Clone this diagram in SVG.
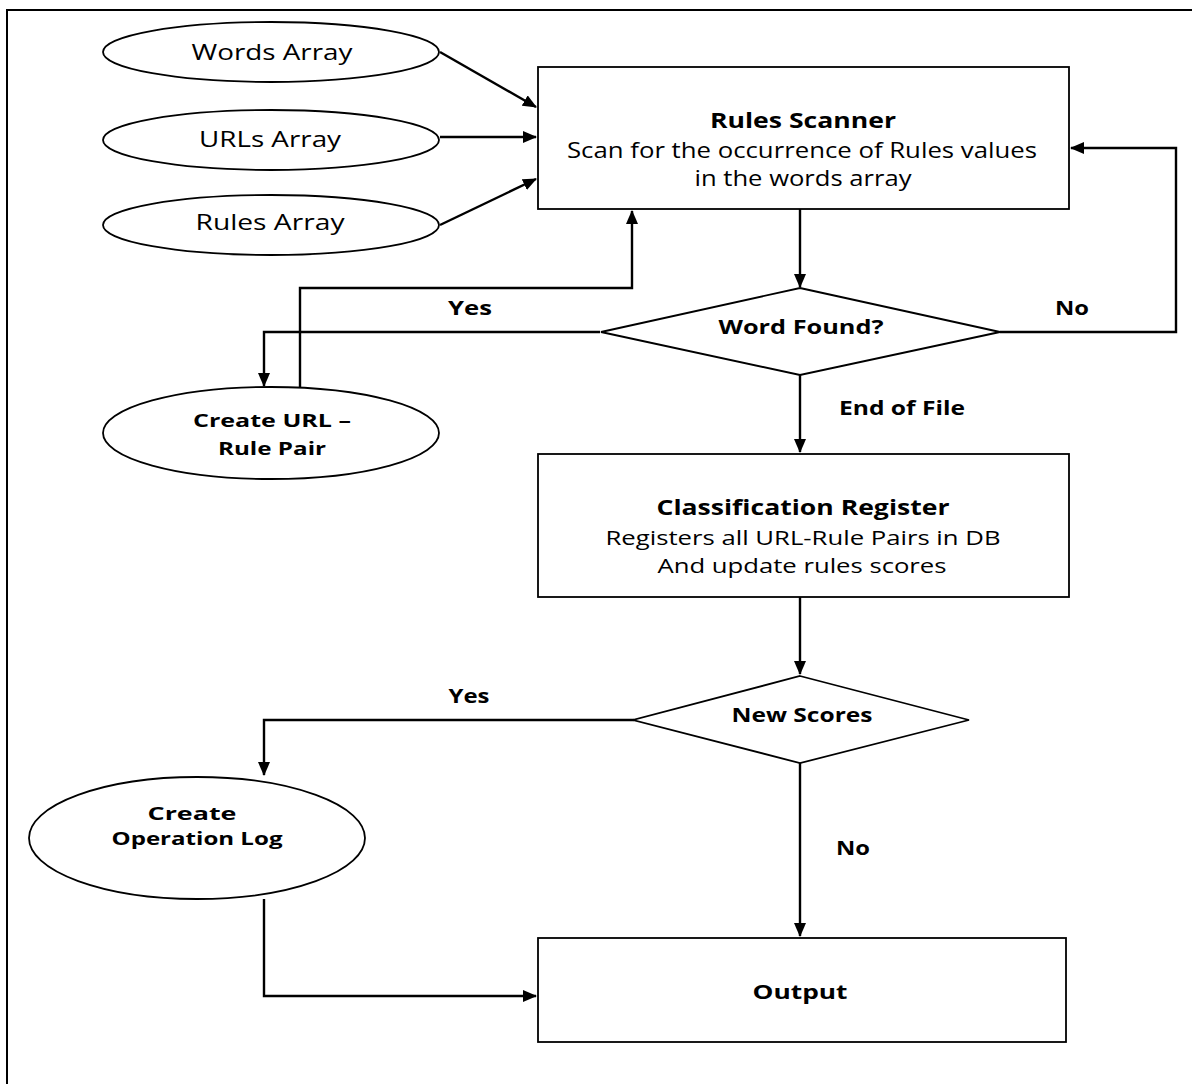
<svg xmlns="http://www.w3.org/2000/svg" width="1192" height="1084" viewBox="0 0 1192 1084">
<defs>
<marker id="arr" markerWidth="14" markerHeight="12" refX="13" refY="6" orient="auto" markerUnits="userSpaceOnUse" viewBox="0 0 14 12">
<path d="M0,0 L14,6 L0,12 Z" fill="#000"/>
</marker>
<style>
.shape{fill:#fff;stroke:#000;stroke-width:1.8}
.conn{fill:none;stroke:#000;stroke-width:2.4}
.t{font-family:"Open Sans","Liberation Sans",sans-serif;font-size:21px;fill:#000;text-anchor:middle}
.b{font-weight:bold}
.c{font-family:"Open Sans","Liberation Sans",sans-serif;font-weight:bold;font-size:19px;fill:#000;text-anchor:middle}
</style>
</defs>
<rect width="1192" height="1084" fill="#fff"/>
<path d="M7,1084 V10 H1192" fill="none" stroke="#000" stroke-width="2"/>

<g id="connectors">
<path class="conn" d="M440,52 L536,107" marker-end="url(#arr)"/>
<path class="conn" d="M440,137 L536,137" marker-end="url(#arr)"/>
<path class="conn" d="M440,225 L536,179" marker-end="url(#arr)"/>
<path class="conn" d="M800,209 L800,287" marker-end="url(#arr)"/>
<path class="conn" d="M1000,332 H1176 V148 H1071" marker-end="url(#arr)"/>
<path class="conn" d="M600,332 H264 V386" marker-end="url(#arr)"/>
<path class="conn" d="M300,388 V288 H632 V211" marker-end="url(#arr)"/>
<path class="conn" d="M800,375 L800,452" marker-end="url(#arr)"/>
<path class="conn" d="M800,597 L800,674" marker-end="url(#arr)"/>
<path class="conn" d="M634,720 H264 V775" marker-end="url(#arr)"/>
<path class="conn" d="M800,763 L800,936" marker-end="url(#arr)"/>
<path class="conn" d="M264,899 V996 H536" marker-end="url(#arr)"/>
<text class="c" x="470" y="315" textLength="44" lengthAdjust="spacingAndGlyphs">Yes</text>
<text class="c" x="1072" y="315" textLength="34" lengthAdjust="spacingAndGlyphs">No</text>
<text class="c" x="902" y="415" textLength="126" lengthAdjust="spacingAndGlyphs">End of File</text>
<text class="c" x="469" y="703" textLength="41" lengthAdjust="spacingAndGlyphs">Yes</text>
<text class="c" x="853" y="855" textLength="34" lengthAdjust="spacingAndGlyphs">No</text>
</g>

<g id="words-array">
<ellipse class="shape" cx="271" cy="52" rx="168" ry="30"/>
<text class="t" x="272" y="60" textLength="161" lengthAdjust="spacingAndGlyphs">Words Array</text>
</g>
<g id="urls-array">
<ellipse class="shape" cx="271" cy="140" rx="168" ry="30"/>
<text class="t" x="270" y="147" textLength="142" lengthAdjust="spacingAndGlyphs">URLs Array</text>
</g>
<g id="rules-array">
<ellipse class="shape" cx="271" cy="225" rx="168" ry="30"/>
<text class="t" x="270" y="230" textLength="149" lengthAdjust="spacingAndGlyphs">Rules Array</text>
</g>

<g id="rules-scanner">
<rect class="shape" x="538" y="67" width="531" height="142"/>
<text class="t b" x="803" y="128" textLength="186" lengthAdjust="spacingAndGlyphs">Rules Scanner</text>
<text class="t" x="802" y="158" textLength="470" lengthAdjust="spacingAndGlyphs">Scan for the occurrence of Rules values</text>
<text class="t" x="803" y="186" textLength="217" lengthAdjust="spacingAndGlyphs">in the words array</text>
</g>

<g id="word-found">
<polygon class="shape" points="800,288 1000,332 800,375 601,332"/>
<text class="t b" x="801" y="334" style="font-size:19px" textLength="165" lengthAdjust="spacingAndGlyphs">Word Found?</text>
</g>

<g id="create-url-rule-pair">
<ellipse class="shape" cx="271" cy="433" rx="168" ry="46"/>
<text class="t b" x="272" y="427" style="font-size:18px" textLength="158" lengthAdjust="spacingAndGlyphs">Create URL –</text>
<text class="t b" x="272" y="455" style="font-size:18px" textLength="108" lengthAdjust="spacingAndGlyphs">Rule Pair</text>
</g>

<g id="classification-register">
<rect class="shape" x="538" y="454" width="531" height="143"/>
<text class="t b" x="803" y="515" textLength="293" lengthAdjust="spacingAndGlyphs">Classification Register</text>
<text class="t" x="803" y="545" style="font-size:20px" textLength="395" lengthAdjust="spacingAndGlyphs">Registers all URL-Rule Pairs in DB</text>
<text class="t" x="802" y="573" style="font-size:20px" textLength="289" lengthAdjust="spacingAndGlyphs">And update rules scores</text>
</g>

<g id="new-scores">
<polygon class="shape" points="800,676 969,720 800,763 633,720"/>
<text class="t b" x="802" y="722" style="font-size:19px" textLength="141" lengthAdjust="spacingAndGlyphs">New Scores</text>
</g>

<g id="create-operation-log">
<ellipse class="shape" cx="197" cy="838" rx="168" ry="61"/>
<text class="t b" x="192" y="820" style="font-size:17px" textLength="89" lengthAdjust="spacingAndGlyphs">Create</text>
<text class="t b" x="197" y="845" style="font-size:17px" textLength="171" lengthAdjust="spacingAndGlyphs">Operation Log</text>
</g>

<g id="output">
<rect class="shape" x="538" y="938" width="528" height="104"/>
<text class="t b" x="800" y="999" style="font-size:19px" textLength="95" lengthAdjust="spacingAndGlyphs">Output</text>
</g>
</svg>
